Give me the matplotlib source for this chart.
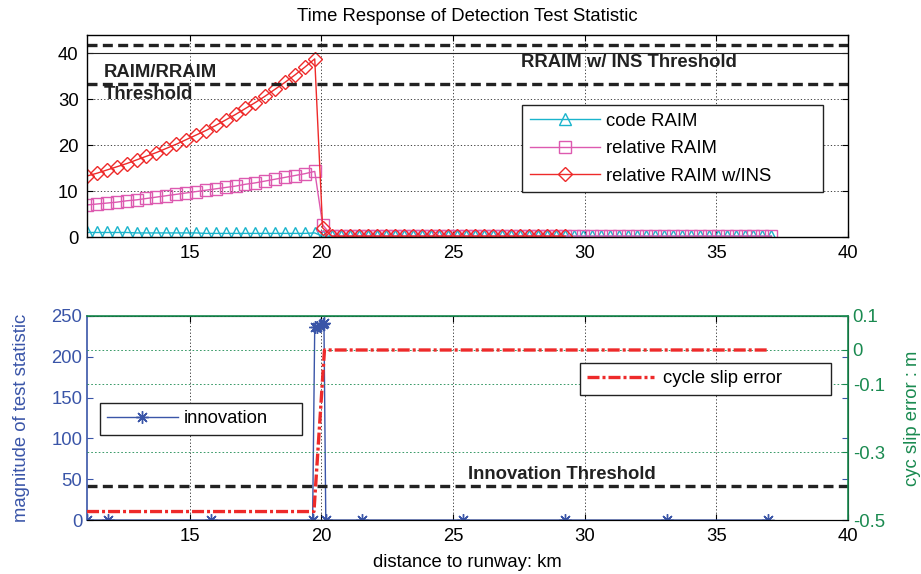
import matplotlib.pyplot as plt
import numpy as np

plt.rcParams['font.family'] = ['Liberation Sans', 'DejaVu Sans']

# ---- top panel data ----
x_pre = np.linspace(11.1, 19.75, 24)
raim_ins_pre = [13.3, 13.9, 14.6, 15.3, 16.0, 16.8, 17.6, 18.4, 19.3, 20.2, 21.2, 22.2,
                23.2, 24.3, 25.5, 26.7, 28.0, 29.3, 30.7, 32.2, 33.7, 35.3, 37.0, 38.8]
rel_raim_pre = [7.0, 7.2, 7.4, 7.6, 7.9, 8.1, 8.4, 8.7, 9.0, 9.3, 9.6, 9.9,
                10.2, 10.5, 10.8, 11.1, 11.5, 11.8, 12.2, 12.6, 13.0, 13.4, 13.8, 14.3]
code_raim_pre = [1.0, 1.0, 1.0, 1.0, 1.0, 0.9, 0.9, 0.9, 0.9, 0.9, 0.9, 0.9,
                 0.8, 0.8, 0.8, 0.8, 0.8, 0.8, 0.8, 0.8, 0.8, 0.8, 0.8, 0.9]
x_jump = 20.05
raim_ins_jump = 2.0
rel_raim_jump = 2.7
code_raim_jump = 0.2
x_post = np.linspace(20.4, 37.1, 50)
post_val = [0.2] * 50
n_ins_post = 27  # relative RAIM w/INS stops near 29.4 km

# ---- bottom panel data ----
innov_x = [11.1, 11.9, 15.8, 19.67, 19.75, 19.85, 19.95, 20.05, 20.1, 20.17,
           21.53, 25.38, 29.26, 33.13, 36.98]
innov_y = [0, 0, 0, 0, 237, 237, 238, 240, 242, 0, 0, 0, 0, 0, 0]
slip_x = [11.1, 19.72, 20.12, 37.0]
slip_y = [-0.475, -0.475, 0.0, 0.0]
innov_threshold = 41.7
top_thresholds = [41.9, 33.4]

blue = '#3a55a8'
green = '#1a8a50'
cyan = '#1ab4cc'
mag = '#dd5ab0'
red = '#ee2a2a'
fs = 13.3

fig = plt.figure(figsize=(9.21, 5.74), dpi=100)
ax1 = fig.add_axes([0.0945, 0.587, 0.826, 0.352])
ax2 = fig.add_axes([0.0945, 0.094, 0.826, 0.3555])

# ---- top ----
ax1.plot(list(x_pre) + [x_jump] + list(x_post), code_raim_pre + [code_raim_jump] + post_val,
         color=cyan, marker='^', ms=9, mfc='none', mew=1, lw=1, label='code RAIM')
ax1.plot(list(x_pre) + [x_jump] + list(x_post), rel_raim_pre + [rel_raim_jump] + post_val,
         color=mag, marker='s', ms=8, mfc='none', mew=1, lw=1, label='relative RAIM')
ax1.plot(list(x_pre) + [x_jump] + list(x_post[:n_ins_post]),
         raim_ins_pre + [raim_ins_jump] + post_val[:n_ins_post],
         color=red, marker='D', ms=7.5, mfc='none', mew=1, lw=1, label='relative RAIM w/INS')
for t in top_thresholds:
    ax1.axhline(t, color='#222222', lw=2.4, dashes=(3, 1.6))
ax1.axhline(40, color='#222222', lw=0.8)
ax1.text(11.75, 35.9, 'RAIM/RRAIM', fontsize=fs, fontweight='bold', va='center', color='#222222')
ax1.text(11.75, 31.0, 'Threshold', fontsize=fs, fontweight='bold', va='center', color='#222222')
ax1.text(31.7, 38.0, 'RRAIM w/ INS Threshold', fontsize=fs, fontweight='bold',
         va='center', ha='center', color='#222222')
ax1.set_xlim(11.1, 40)
ax1.set_ylim(0, 44)
ax1.set_xticks([15, 20, 25, 30, 35, 40])
ax1.set_yticks([0, 10, 20, 30, 40])
ax1.grid(True, color='#222222', lw=0.6, dashes=(1.5, 2.5))
ax1.tick_params(direction='in', length=4, labelsize=fs, right=True, top=True, pad=6)
for s in ax1.spines.values():
    s.set_linewidth(1.0)
ax1.set_title('Time Response of Detection Test Statistic', fontsize=fs, pad=10)
leg = ax1.legend(loc='upper left', bbox_to_anchor=(0.572, 0.553, 0.395, 0.1), mode='expand',
                 borderaxespad=0, fontsize=fs, fancybox=False, edgecolor='#222222',
                 framealpha=1, handlelength=3.8, handletextpad=0.35,
                 borderpad=0.4, labelspacing=0.58)
leg.get_frame().set_linewidth(1.0)

# ---- bottom ----
ax2.plot(innov_x, innov_y, color=blue, marker=(8, 2, 0), ms=9, mew=1, lw=1, label='innovation')
ax2.axhline(innov_threshold, color='#222222', lw=2.4, dashes=(3, 1.6))
ax2.text(25.57, 56, 'Innovation Threshold', fontsize=fs, fontweight='bold',
         va='center', color='#222222')
ax2.set_xlim(11.1, 40)
ax2.set_ylim(0, 250)
ax2.set_xticks([15, 20, 25, 30, 35, 40])
ax2.set_yticks([0, 50, 100, 150, 200, 250])
ax2.xaxis.grid(True, color='#222222', lw=0.6, dashes=(1.5, 2.5))
ax2.tick_params(axis='x', direction='in', length=4, labelsize=fs, top=True, pad=6)
ax2.tick_params(axis='y', direction='in', length=4, labelsize=fs, colors=blue)
ax2.set_ylabel('magnitude of test statistic', fontsize=fs, color=blue, labelpad=15)
ax2.set_xlabel('distance to runway: km', fontsize=fs, labelpad=6)
ax2.spines['left'].set_color(blue)
ax2.spines['left'].set_linewidth(1.2)
leg2 = ax2.legend(loc='upper left', bbox_to_anchor=(0.017, 0.474, 0.265, 0.1), mode='expand',
                  borderaxespad=0, fontsize=fs, fancybox=False, edgecolor='#222222',
                  framealpha=1, handlelength=3.8, handletextpad=0.35, borderpad=0.4)
leg2.get_frame().set_linewidth(1.0)

ax3 = ax2.twinx()
ax3.plot(slip_x, slip_y, color=red, lw=2.4, dashes=(3.6, 0.9, 0.9, 0.9), label='cycle slip error')
ax3.set_ylim(-0.5, 0.1)
ax3.set_yticks([0.1, 0, -0.1, -0.3, -0.5])
ax3.set_yticklabels(['0.1', '0', '-0.1', '-0.3', '-0.5'])
ax3.yaxis.grid(True, color=green, lw=0.6, dashes=(2, 2.5))
ax3.tick_params(axis='y', direction='in', length=4, labelsize=fs, colors=green)
ax3.set_ylabel('cyc slip error : m', fontsize=fs, color=green, labelpad=14)
ax3.spines['right'].set_color(green)
ax3.spines['right'].set_linewidth(1.2)
ax3.spines['top'].set_color(green)
ax3.spines['top'].set_linewidth(1.2)
ax3.spines['left'].set_visible(False)
# blue ticks of the left axis mirrored on the right side
ax2.tick_params(axis='y', right=True)
leg3 = ax3.legend(loc='upper left', bbox_to_anchor=(0.648, 0.67, 0.33, 0.1), mode='expand',
                  borderaxespad=0, fontsize=fs, fancybox=False, edgecolor='#222222',
                  framealpha=1, handlelength=3.6, handletextpad=0.5, borderpad=0.4)
leg3.get_frame().set_linewidth(1.0)

fig.savefig('out.png', dpi=100)
